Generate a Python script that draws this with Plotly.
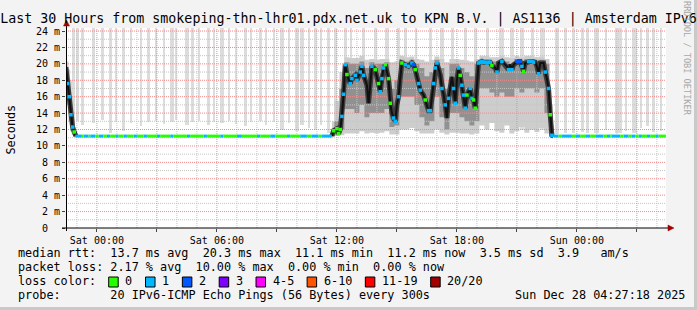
import plotly.graph_objects as go
from datetime import datetime, timedelta

# ------------------------------------------------------------------ data
YR = "2025-"
T_START = "2025-12-26 22:27:18"
T_END = "2025-12-28 04:27:18"
Y_TOP = 24.37          # top of the value axis (ms)
FLAT_MS = 11.2         # median during the quiet periods (ms)
SPIKE_TOP = 30.0       # outlier pings, beyond the top of the chart (ms)

# median rtt (ms) and lost pings (of 20) per marked interval
median_time = [
    "12-26 22:27", "12-26 22:32", "12-26 22:37", "12-26 22:42", "12-26 22:47", "12-26 22:52", "12-26 22:57",
    "12-27 11:45", "12-27 11:50", "12-27 12:00", "12-27 12:05", "12-27 12:10", "12-27 12:15", "12-27 12:20", "12-27 12:25",
    "12-27 12:30", "12-27 12:40", "12-27 12:45", "12-27 12:55", "12-27 13:00", "12-27 13:10", "12-27 13:15", "12-27 13:20",
    "12-27 13:30", "12-27 13:35", "12-27 13:45", "12-27 13:55", "12-27 14:05", "12-27 14:10", "12-27 14:15", "12-27 14:20",
    "12-27 14:25", "12-27 14:35", "12-27 14:40", "12-27 14:45", "12-27 14:50", "12-27 14:55", "12-27 15:00", "12-27 15:05",
    "12-27 15:10", "12-27 15:15", "12-27 15:25", "12-27 15:35", "12-27 15:45", "12-27 15:50", "12-27 15:55", "12-27 16:05",
    "12-27 16:10", "12-27 16:20", "12-27 16:25", "12-27 16:35", "12-27 16:40", "12-27 16:45", "12-27 16:50", "12-27 16:55",
    "12-27 17:00", "12-27 17:10", "12-27 17:15", "12-27 17:20", "12-27 17:25", "12-27 17:30", "12-27 17:35", "12-27 17:40",
    "12-27 17:45", "12-27 17:50", "12-27 17:55", "12-27 18:00", "12-27 18:05", "12-27 18:10", "12-27 18:15", "12-27 18:20",
    "12-27 18:25", "12-27 18:30", "12-27 18:40", "12-27 18:45", "12-27 18:50", "12-27 18:55", "12-27 19:00", "12-27 19:05",
    "12-27 19:10", "12-27 19:15", "12-27 19:20", "12-27 19:25", "12-27 19:30", "12-27 19:35", "12-27 19:40", "12-27 19:45",
    "12-27 19:55", "12-27 20:00", "12-27 20:05", "12-27 20:15", "12-27 20:20", "12-27 20:30", "12-27 20:35", "12-27 20:40",
    "12-27 20:45", "12-27 20:50", "12-27 21:00", "12-27 21:05", "12-27 21:10", "12-27 21:15", "12-27 21:20", "12-27 21:25",
    "12-27 21:35", "12-27 21:40", "12-27 21:45", "12-27 21:50", "12-27 21:55", "12-27 22:00", "12-27 22:05", "12-27 22:10",
    "12-27 22:20", "12-27 22:25", "12-27 22:30", "12-27 22:35", "12-27 22:40", "12-27 22:45", "12-27 22:50",
    "12-28 04:27",
]
median_ms = [
    19.6, 17.6, 16.0, 13.8, 12.3, 11.7, 11.2,
    11.2, 11.85, 12.1, 11.5, 12.0, 13.6, 16.3, 19.9,
    18.7, 17.6, 18.2, 18.6, 18.0, 19.0, 19.7, 18.6,
    17.4, 15.2, 19.7, 19.3, 17.6, 16.6, 18.2, 19.5,
    19.9, 18.2, 15.2, 14.0, 13.4, 13.0, 15.0, 16.0,
    18.2, 20.1, 19.9, 19.7, 20.1, 19.9, 19.3, 17.6,
    16.8, 16.2, 15.6, 14.3, 14.3, 15.8, 17.6, 19.5,
    20.1, 18.7, 17.0, 16.3, 15.0, 13.4, 15.8, 17.2,
    18.4, 17.0, 15.2, 18.0, 19.5, 18.6, 17.4, 16.2,
    14.6, 16.2, 17.0, 15.8, 15.6, 14.6, 17.8, 20.1,
    20.2, 20.3, 20.2, 20.2, 20.1, 20.2, 20.2, 19.8,
    19.5, 19.0, 20.1, 20.3, 20.1, 19.7, 19.3, 19.9,
    19.3, 19.9, 20.3, 20.3, 20.3, 19.7, 19.1, 20.1,
    20.3, 20.3, 20.3, 20.2, 20.2, 19.7, 18.8, 20.1,
    20.1, 19.0, 18.2, 17.0, 13.8, 11.3, 11.2,
    11.2,
]
median_loss = [
    None, 1, 1, 1, 1, 0, None,
    None, 0, 0, 0, 0, 1, 1, 1,
    0, 1, 1, 1, 1, 1, 1, 1,
    None, None, 1, 0, 0, 1, 1, 1,
    0, 0, 0, None, 1, 1, None, 1,
    None, 0, 1, 1, 1, 2, 0, 1,
    1, None, 0, 1, 1, None, 1, 1,
    1, None, 1, None, 1, None, 1, None,
    None, 1, 1, None, 1, 0, 1, 1,
    1, 0, 1, 1, 0, 0, None, 1,
    1, 1, 1, 1, 1, 1, 1, 0,
    None, 1, None, 1, None, None, 1, None,
    1, None, 2, 2, 2, 1, 0, None,
    1, 1, 1, 1, None, None, 1, None,
    None, 1, None, 1, 0, 1, None,
    None,
]

# loss colour of the flat median, as runs (start time, lost pings)
run_a_start = [
    "12-26 22:55", "12-26 23:15", "12-26 23:20", "12-26 23:35", "12-26 23:40", "12-26 23:55",
    "12-27 00:05", "12-27 00:20", "12-27 00:30", "12-27 00:40", "12-27 00:55", "12-27 01:05",
    "12-27 01:20", "12-27 01:30", "12-27 01:50", "12-27 02:00", "12-27 02:20", "12-27 02:30",
    "12-27 03:00", "12-27 03:10", "12-27 03:40", "12-27 03:50", "12-27 04:30", "12-27 04:40",
    "12-27 05:20", "12-27 05:30", "12-27 06:10", "12-27 06:20", "12-27 07:00", "12-27 07:15",
    "12-27 08:00", "12-27 08:10", "12-27 08:40", "12-27 08:55", "12-27 09:30", "12-27 09:40",
    "12-27 10:10", "12-27 10:30", "12-27 10:45", "12-27 11:05", "12-27 11:15",
]
run_a_loss = [1, 0, 1, 0, 1, 0,
              1, 0, 1, 0, 1, 0,
              1, 0, 1, 0, 1, 0,
              1, 0, 1, 0, 1, 0,
              1, 0, 1, 0, 1, 0,
              1, 0, 1, 0, 1, 0,
              1, 0, 1, 0, 1]
run_a_end = "12-27 11:45"

run_b_start = [
    "12-27 22:50", "12-27 23:05", "12-27 23:15", "12-27 23:45", "12-27 23:55", "12-28 00:10",
    "12-28 00:25", "12-28 00:40", "12-28 00:55", "12-28 01:20", "12-28 01:30", "12-28 01:40",
    "12-28 01:45", "12-28 02:10", "12-28 02:20", "12-28 02:35", "12-28 02:45", "12-28 02:55",
    "12-28 03:05", "12-28 03:15", "12-28 03:30", "12-28 03:40", "12-28 03:55", "12-28 04:05",
]
run_b_loss = [1, 0, 1, 0, 1, 0,
              1, 0, 1, 0, 1, 0,
              1, 0, 1, 0, 1, 0,
              1, 0, 1, 0, 1, 0]
run_b_end = "12-28 04:27"

# smoke (spread of the 20 pings), early descent
smoke_a_time = ["12-26 22:27", "12-26 22:32", "12-26 22:37", "12-26 22:42", "12-26 22:47", "12-26 22:52", "12-26 22:57"]
smoke_a_light_lo = [16.5, 15.0, 13.0, 11.8, 11.4, 11.3, 11.2]
smoke_a_light_hi = [20.6, 20.3, 19.3, 18.0, 16.0, 13.5, 11.6]
smoke_a_mid_lo = [18.0, 16.2, 14.5, 12.6, 11.7, 11.3, 11.2]
smoke_a_mid_hi = [20.3, 19.0, 17.6, 15.5, 13.6, 12.3, 11.4]

# smoke, congested afternoon (15 min resolution)
smoke_b_time = [
    "12-27 11:45", "12-27 12:00", "12-27 12:15", "12-27 12:30", "12-27 12:45", "12-27 13:00", "12-27 13:15", "12-27 13:30",
    "12-27 13:45", "12-27 14:00", "12-27 14:15", "12-27 14:30", "12-27 14:45", "12-27 15:00", "12-27 15:15", "12-27 15:30",
    "12-27 15:45", "12-27 16:00", "12-27 16:15", "12-27 16:30", "12-27 16:45", "12-27 17:00", "12-27 17:15", "12-27 17:30",
    "12-27 17:45", "12-27 18:00", "12-27 18:15", "12-27 18:30", "12-27 18:45", "12-27 19:00", "12-27 19:15", "12-27 19:30",
    "12-27 19:45", "12-27 20:00", "12-27 20:15", "12-27 20:30", "12-27 20:45", "12-27 21:00", "12-27 21:15", "12-27 21:30",
    "12-27 21:45", "12-27 22:00", "12-27 22:15", "12-27 22:30", "12-27 22:45", "12-27 22:50",
]
smoke_b_mid_lo = [11.2, 11.4, 12.0, 14.5, 14.5, 14.0, 15.0, 13.5, 14.0, 14.0, 14.0, 14.5, 12.3, 12.5, 16.0, 16.0,
                  16.0, 15.0, 13.5, 12.5, 13.0, 16.0, 13.5, 12.0, 14.0, 14.0, 13.5, 13.0, 12.5, 13.0, 17.0, 17.0,
                  16.5, 16.0, 16.5, 16.0, 16.0, 17.0, 16.5, 17.0, 17.0, 16.5, 17.0, 14.0, 11.2, 11.2]
smoke_b_mid_hi = [11.6, 13.0, 17.0, 20.2, 20.0, 20.0, 20.3, 19.5, 20.2, 20.0, 20.0, 20.2, 17.0, 18.0, 20.5, 20.3,
                  20.5, 20.0, 19.5, 18.5, 19.0, 20.5, 19.5, 17.0, 20.0, 20.0, 19.5, 19.0, 18.5, 20.0, 20.5, 20.5,
                  20.3, 20.3, 20.6, 20.3, 20.0, 20.6, 20.3, 20.6, 20.6, 20.3, 20.5, 20.0, 13.0, 11.4]
smoke_b_light_lo = [11.2, 11.2, 11.3, 11.5, 11.5, 11.5, 11.8, 11.5, 11.6, 11.5, 11.6, 11.8, 11.4, 11.4, 12.0, 12.0,
                    12.2, 11.8, 11.5, 11.5, 11.5, 12.0, 11.6, 11.4, 11.6, 11.6, 11.5, 11.5, 11.4, 11.5, 12.5, 12.0,
                    12.8, 11.8, 11.6, 12.5, 11.5, 11.8, 12.3, 11.6, 12.0, 11.7, 12.2, 11.5, 11.2, 11.2]
smoke_b_light_hi = [13.0, 15.5, 19.0, 20.8, 20.7, 20.7, 21.0, 20.5, 20.6, 20.5, 20.6, 20.6, 20.2, 20.3, 21.0, 20.8,
                    20.9, 20.6, 20.5, 20.3, 20.5, 20.9, 20.6, 20.2, 20.6, 20.6, 20.5, 20.4, 20.3, 20.6, 21.0, 21.0,
                    20.8, 20.8, 21.0, 20.8, 20.7, 21.0, 20.8, 21.0, 21.0, 20.8, 20.9, 20.6, 15.0, 11.6]

# single pings far above the median (light bars to the top of the chart)
spike_start = [
    "12-26 22:45", "12-26 23:00", "12-26 23:15", "12-26 23:45", "12-27 00:15", "12-27 00:35", "12-27 00:55", "12-27 01:15",
    "12-27 01:40", "12-27 02:10", "12-27 02:30", "12-27 02:55", "12-27 03:20", "12-27 03:40", "12-27 03:55", "12-27 04:25",
    "12-27 04:45", "12-27 05:05", "12-27 05:30", "12-27 05:50", "12-27 06:10", "12-27 06:35", "12-27 06:55", "12-27 07:20",
    "12-27 07:40", "12-27 08:05", "12-27 08:25", "12-27 08:50", "12-27 09:10", "12-27 09:35", "12-27 09:55", "12-27 10:10",
    "12-27 10:35", "12-27 10:50", "12-27 11:10", "12-27 11:30",
    "12-27 11:50", "12-27 12:20", "12-27 12:40", "12-27 13:15", "12-27 13:50", "12-27 14:25", "12-27 15:00", "12-27 15:20",
    "12-27 15:55", "12-27 16:35", "12-27 17:10", "12-27 17:45", "12-27 18:20", "12-27 18:50", "12-27 19:30", "12-27 20:05",
    "12-27 20:40", "12-27 21:10", "12-27 21:45", "12-27 22:10",
    "12-27 22:55", "12-27 23:20", "12-27 23:45", "12-28 00:15", "12-28 00:30", "12-28 00:50", "12-28 01:25", "12-28 01:55",
    "12-28 02:25", "12-28 02:45", "12-28 03:10", "12-28 03:30", "12-28 03:45", "12-28 04:10",
]
spike_minutes = [
    10, 5, 5, 10, 5, 10, 5, 10,
    5, 5, 10, 5, 5, 10, 5, 10,
    5, 5, 10, 5, 10, 5, 5, 10,
    5, 10, 5, 5, 10, 5, 10, 10,
    5, 10, 5, 10,
    10, 10, 5, 10, 10, 10, 10, 10,
    5, 10, 10, 5, 10, 10, 5, 15,
    10, 10, 5, 15,
    10, 10, 10, 5, 5, 15, 5, 20,
    5, 15, 5, 5, 10, 5,
]
spike_low = [
    12.9, 13.0, 12.6, 12.8, 13.1, 11.6, 12.9, 11.8,
    12.8, 12.4, 12.9, 13.0, 12.7, 12.9, 13.2, 12.6,
    12.9, 13.0, 12.5, 12.9, 12.8, 13.0, 12.7, 12.4,
    12.9, 13.0, 12.6, 12.9, 12.0, 12.8, 11.8, 12.5,
    12.2, 11.9, 12.6, 11.6,
    12.0, 12.0, 12.0, 12.0, 12.0, 12.0, 12.0, 12.0,
    12.0, 12.0, 12.0, 12.0, 12.0, 12.0, 12.0, 12.0,
    12.0, 12.0, 12.0, 12.0,
    11.5, 11.6, 11.6, 11.7, 11.6, 11.6, 12.0, 11.6,
    11.8, 11.6, 12.2, 12.4, 11.7, 11.8,
]

# axes
x_major_ticks = ["12-27 00:00", "12-27 03:00", "12-27 06:00", "12-27 09:00", "12-27 12:00",
                 "12-27 15:00", "12-27 18:00", "12-27 21:00", "12-28 00:00", "12-28 03:00"]
x_major_labels = ["Sat 00:00", "", "Sat 06:00", "", "Sat 12:00", "", "Sat 18:00", "", "Sun 00:00", ""]
y_tick_vals = [0, 2, 4, 6, 8, 10, 12, 14, 16, 18, 20, 22, 24]
y_tick_labels = ["0  ", "2 m", "4 m", "6 m", "8 m", "10 m", "12 m", "14 m", "16 m", "18 m", "20 m", "22 m", "24 m"]

# legend
loss_labels = ["0", "1", "2", "3", "4-5", "6-10", "11-19", "20/20"]
loss_colors = ["#26ff00", "#00b8ff", "#0059ff", "#7e00ff", "#ff00ff", "#ff5500", "#ff0000", "#a10000"]
title_text = "Last 30 Hours from smokeping-thn-lhr01.pdx.net.uk to KPN B.V. | AS1136 | Amsterdam IPv6"
legend_rtt = "median rtt:  13.7 ms avg  20.3 ms max  11.1 ms min  11.2 ms now  3.5 ms sd  3.9   am/s"
legend_loss = "packet loss: 2.17 % avg  10.00 % max  0.00 % min  0.00 % now"
legend_color = "loss color:"
legend_probe = "probe:       20 IPv6-ICMP Echo Pings (56 Bytes) every 300s"
legend_date = "Sun Dec 28 04:27:18 2025"

# ------------------------------------------------------------------ style
FONT = "DejaVu Sans Mono"
SPIKE = "#dcdcdc"
LIGHT = "#cdcdcd"
MID = "#919191"
HALO = "#3c3c3c"
PL, PR, PT, PB = 66, 666, 28, 228      # plot area in pixels
W, H = 697, 310
CH = 7.13                               # legend character advance


def px(x):
    return (x - PL) / (PR - PL)


def py(y):
    return (PB - y) / (PB - PT)


def ts(s):
    return datetime.strptime(YR + s, "%Y-%m-%d %H:%M")


def nb(s):
    return s.replace(" ", "\u00a0")


fig = go.Figure()

# outlier bars
fig.add_trace(go.Bar(
    x=[ts(s) + timedelta(minutes=m / 2) for s, m in zip(spike_start, spike_minutes)],
    y=[SPIKE_TOP - lo for lo in spike_low], base=spike_low,
    width=[m * 60000 for m in spike_minutes],
    marker=dict(color=SPIKE, line=dict(width=0)), hoverinfo="skip", showlegend=False))


def band(times, lo, hi, color):
    xs = [ts(s) for s in times]
    fig.add_trace(go.Scatter(x=xs, y=lo, mode="lines", line=dict(width=0, shape="hvh"),
                             hoverinfo="skip", showlegend=False))
    fig.add_trace(go.Scatter(x=xs, y=hi, mode="lines", line=dict(width=0, shape="hvh"),
                             fill="tonexty", fillcolor=color, hoverinfo="skip", showlegend=False))


band(smoke_a_time, smoke_a_light_lo, smoke_a_light_hi, LIGHT)
band(smoke_a_time, smoke_a_mid_lo, smoke_a_mid_hi, MID)
band(smoke_b_time, smoke_b_light_lo, smoke_b_light_hi, LIGHT)
band(smoke_b_time, smoke_b_mid_lo, smoke_b_mid_hi, MID)

# grid (dotted, drawn over the smoke as rrdtool does)
t0 = ts("12-26 23:00")
hours = [t0 + timedelta(hours=i) for i in range(30)]
major_set = set(ts(s) for s in x_major_ticks)


def vlines(times):
    xs, ys = [], []
    for t in times:
        xs += [t, t, None]
        ys += [0, Y_TOP, None]
    return xs, ys


def hlines(vals):
    xs, ys = [], []
    for v in vals:
        xs += [T_START, T_END, None]
        ys += [v, v, None]
    return xs, ys


for (xs, ys), col in [
    (vlines([h for h in hours if h not in major_set]), "#c4c4c4"),
    (hlines([v for v in range(1, 25) if v % 2]), "#c4c4c4"),
    (vlines([ts(s) for s in x_major_ticks]), "#f08a8a"),
    (hlines([v for v in y_tick_vals if v > 0]), "#f08a8a"),
]:
    fig.add_trace(go.Scatter(x=xs, y=ys, mode="lines", line=dict(color=col, width=1, dash="1px,1px"),
                             hoverinfo="skip", showlegend=False))

# median line (dark core of the smoke) for the moving parts
mx = [ts(s) for s in median_time]
n_early = 7
for seg in (slice(0, n_early), slice(n_early, len(mx) - 1)):
    fig.add_trace(go.Scatter(x=mx[seg], y=median_ms[seg], mode="lines",
                             line=dict(color=HALO, width=5), hoverinfo="skip", showlegend=False))
    fig.add_trace(go.Scatter(x=mx[seg], y=median_ms[seg], mode="lines",
                             line=dict(color="#101010", width=2), hoverinfo="skip", showlegend=False))


# flat median coloured by loss
def runs(starts, losses, end):
    out = {}
    bounds = [ts(s) for s in starts] + [ts(end)]
    for i, l in enumerate(losses):
        xs, ys = out.setdefault(l, ([], []))
        xs += [bounds[i], bounds[i + 1], None]
        ys += [FLAT_MS, FLAT_MS, None]
    return out


for group in (runs(run_a_start, run_a_loss, run_a_end), runs(run_b_start, run_b_loss, run_b_end)):
    for l, (xs, ys) in group.items():
        fig.add_trace(go.Scatter(x=xs, y=ys, mode="lines", line=dict(color=loss_colors[l], width=3),
                                 hoverinfo="skip", showlegend=False))

# coloured median markers
mk = [(t, v, l) for t, v, l in zip(mx, median_ms, median_loss) if l is not None]
fig.add_trace(go.Scatter(x=[m[0] for m in mk], y=[m[1] for m in mk], mode="markers",
                         marker=dict(symbol="square", size=3.5, color=[loss_colors[m[2]] for m in mk],
                                     line=dict(width=0)),
                         hoverinfo="skip", showlegend=False))

# ------------------------------------------------------------------ layout
shapes = [
    # axes
    dict(type="line", xref="paper", yref="paper", x0=px(62), x1=px(669), y0=0, y1=0,
         line=dict(color="black", width=1)),
    dict(type="line", xref="paper", yref="paper", x0=px(66.5), x1=px(66.5), y0=py(231), y1=py(25),
         line=dict(color="black", width=1)),
    dict(type="path", xref="paper", yref="paper",
         path=f"M {px(674)} {py(228)} L {px(668)} {py(225)} L {px(668)} {py(231)} Z",
         fillcolor="#a00000", line=dict(color="#a00000", width=0.5)),
    dict(type="path", xref="paper", yref="paper",
         path=f"M {px(66.5)} {py(20)} L {px(63.5)} {py(26)} L {px(69.5)} {py(26)} Z",
         fillcolor="#a00000", line=dict(color="#a00000", width=0.5)),
    # frame
    dict(type="rect", xref="paper", yref="paper", x0=px(694), x1=px(698), y0=py(-1), y1=py(311),
         fillcolor="#c9c9c9", line=dict(width=0)),
    dict(type="rect", xref="paper", yref="paper", x0=px(-1), x1=px(698), y0=py(307), y1=py(311),
         fillcolor="#c9c9c9", line=dict(width=0)),
]

annotations = []


def text(x, y, s, size=11.8, anchor="left", color="black", angle=0):
    annotations.append(dict(x=px(x), y=py(y), xref="paper", yref="paper", text=nb(s), showarrow=False,
                            xanchor=anchor, yanchor="middle", textangle=angle,
                            font=dict(family=FONT, size=size, color=color)))


text(16, 252.8, legend_rtt)
text(16, 267.0, legend_loss)
text(16, 281.2, legend_color)
text(16, 295.4, legend_probe)
text(512.7, 295.4, legend_date)
text(10.5, 130, "Seconds", angle=-90, anchor="center")
text(687, 58, "RRDTOOL / TOBI OETIKER", size=8.6, color="#a8a8a8", angle=90, anchor="center")

bx = 108.7
for lab, col in zip(loss_labels, loss_colors):
    shapes.append(dict(type="rect", xref="paper", yref="paper", x0=px(bx), x1=px(bx + 9.5),
                       y0=py(287), y1=py(277), fillcolor=col, line=dict(color="black", width=1)))
    tx = bx + 14.7
    text(tx, 281.2, lab)
    bx = tx + len(lab) * CH + 15

fig.update_layout(
    width=W, height=H,
    margin=dict(l=PL, r=W - PR, t=PT, b=H - PB, pad=0),
    paper_bgcolor="#f3f3f3", plot_bgcolor="white",
    bargap=0, barmode="overlay",
    title=dict(text=title_text, x=0.5, xref="container", xanchor="center",
               y=1 - 18.5 / H, yref="container", yanchor="middle",
               font=dict(family=FONT, size=13.3, color="black")),
    xaxis=dict(type="date", range=[T_START, T_END], showgrid=False, zeroline=False, showline=False,
               tickvals=[ts(s) for s in x_major_ticks], ticktext=[nb(s) for s in x_major_labels],
               ticks="outside", ticklen=3, tickcolor="#444", tickwidth=1,
               tickfont=dict(family=FONT, size=10, color="black"), fixedrange=True),
    yaxis=dict(range=[0, Y_TOP], showgrid=False, zeroline=False, showline=False,
               tickvals=y_tick_vals, ticktext=[nb(s) for s in y_tick_labels],
               ticks="outside", ticklen=3, tickcolor="#444", tickwidth=1,
               tickfont=dict(family=FONT, size=10, color="black"), fixedrange=True),
    shapes=shapes, annotations=annotations, showlegend=False,
)

fig.write_html("out.html")
